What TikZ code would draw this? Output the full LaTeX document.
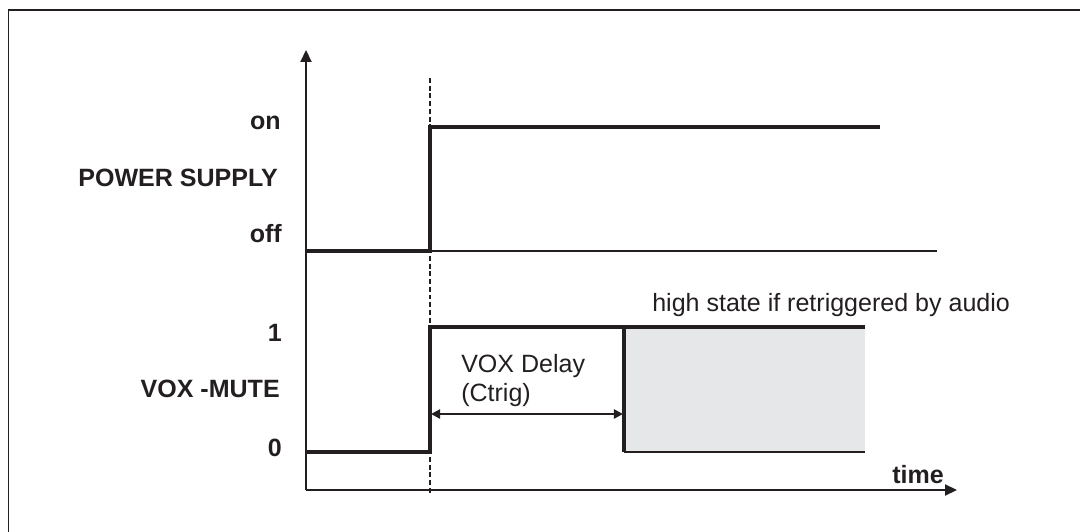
\documentclass[tikz,border=0pt]{standalone}
\usepackage{fontspec}
\setmainfont{Liberation Sans}
\usetikzlibrary{arrows.meta}
\definecolor{ink}{HTML}{231F20}
\definecolor{retrigfill}{HTML}{E6E7E8}

\begin{document}
\begin{tikzpicture}[x=0.025cm, y=-0.025cm,
    lbl/.style={anchor=base east, inner sep=0pt, text=ink, font=\fontsize{17.8}{20}\selectfont\bfseries},
    note/.style={anchor=base west, inner sep=0pt, text=ink, font=\fontsize{17.8}{20}\selectfont},
    axis/.style={draw=ink, line width=1.5pt, -{Triangle[length=8.5pt, width=7.8pt]}},
    sig/.style={draw=ink, line width=2.85pt},
    thin/.style={draw=ink, line width=1.2pt},
    marker/.style={draw=ink, line width=0.9pt, dash pattern=on 3.5pt off 2pt},
    span/.style={draw=ink, line width=2.1pt, {Triangle[length=6.5pt, width=6.5pt]}-{Triangle[length=6.5pt, width=6.5pt]}}
]
\useasboundingbox (0,0) rectangle (1080,532);

% Frame
\draw[draw=ink, line width=1.4pt] (8.5,540) -- (8.5,10) -- (1090,10);

% Key points
\coordinate (origin) at (306,490);
\coordinate (ytop) at (306,50);
\coordinate (tend) at (957,490);
\coordinate (trigtop) at (430,78);
\coordinate (trigbot) at (430,493);

% Shaded retrigger area
\fill[retrigfill] (624,327) rectangle (865,452);

% Axes and trigger marker
\draw[marker] (trigtop) -- (trigbot);
\draw[axis] (origin) -- (ytop);
\draw[axis] (origin) -- (tend);

% Power supply
\draw[thin] (430,251) -- (937,251);
\draw[sig] (306,251) -- (430,251) -- (430,127) -- (880,127);

% VOX-MUTE
\draw[sig] (306,452) -- (430,452) -- (430,327) -- (865,327);
\draw[draw=ink, line width=2.5pt] (624,327) -- (624,452);
\draw[draw=ink, line width=1.7pt] (624,452) -- (865,452);
\coordinate (delaystart) at (431,414);
\coordinate (delayend) at (623,414);
\draw[span] (delaystart) -- (delayend);

% Labels
\node[lbl] (on) at (281,130) {on};
\node[lbl] (power) at (278,187) {POWER SUPPLY};
\node[lbl] (off) at (282,242) {off};
\node[lbl] (one) at (282,341) {1};
\node[lbl] (vox) at (280,397) {VOX -MUTE};
\node[lbl] (zero) at (282,456) {0};
\node[lbl] (time) at (944,483) {time};
\node[note] (retrig) at (652,311) {high state if retriggered by audio};
\node[note] (delay) at (461,372) {VOX Delay};
\node[note] (ctrig) at (461,401) {(Ctrig)};
\end{tikzpicture}
\end{document}
